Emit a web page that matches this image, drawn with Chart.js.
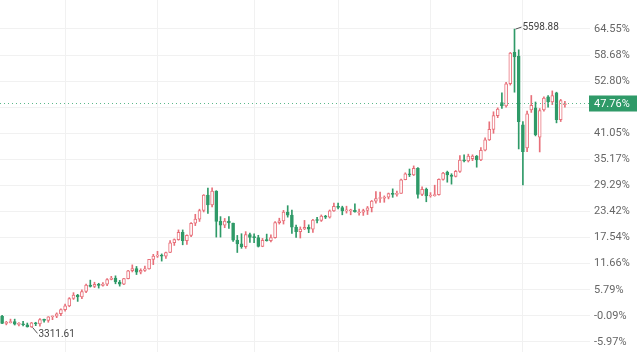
<!DOCTYPE html>
<html>
<head>
<meta charset="utf-8">
<script src="https://cdn.jsdelivr.net/npm/chart.js@4.4.1/dist/chart.umd.min.js"></script>
<style>
  html, body { margin: 0; padding: 0; background: #fff; }
  canvas { display: block; }
</style>
</head>
<body>
<canvas id="chart" width="640" height="352"></canvas>
<script>
// trading days shown on the chart
const days = [
  '2025-08-11','2025-08-12','2025-08-13','2025-08-14','2025-08-15','2025-08-18','2025-08-19','2025-08-20','2025-08-21','2025-08-22',
  '2025-08-25','2025-08-26','2025-08-27','2025-08-28','2025-08-29',
  '2025-09-01','2025-09-02','2025-09-03','2025-09-04','2025-09-05','2025-09-08','2025-09-09','2025-09-10','2025-09-11','2025-09-12',
  '2025-09-15','2025-09-16','2025-09-17','2025-09-18','2025-09-19','2025-09-22','2025-09-23','2025-09-24','2025-09-25','2025-09-26',
  '2025-09-29','2025-09-30',
  '2025-10-01','2025-10-02','2025-10-03','2025-10-06','2025-10-07','2025-10-08','2025-10-09','2025-10-10','2025-10-13','2025-10-14',
  '2025-10-15','2025-10-16','2025-10-17','2025-10-20','2025-10-21','2025-10-22','2025-10-23','2025-10-24','2025-10-27','2025-10-28',
  '2025-10-29','2025-10-30','2025-10-31',
  '2025-11-03','2025-11-04','2025-11-05','2025-11-06','2025-11-07','2025-11-10','2025-11-11','2025-11-12','2025-11-13','2025-11-14',
  '2025-11-17','2025-11-18','2025-11-19','2025-11-20','2025-11-21','2025-11-24','2025-11-25','2025-11-26','2025-11-27','2025-11-28',
  '2025-12-01','2025-12-02','2025-12-03','2025-12-04','2025-12-05','2025-12-08','2025-12-09','2025-12-10','2025-12-11','2025-12-12',
  '2025-12-15','2025-12-16','2025-12-17','2025-12-18','2025-12-19','2025-12-22','2025-12-23','2025-12-24','2025-12-26','2025-12-29',
  '2025-12-30','2025-12-31',
  '2026-01-01','2026-01-02','2026-01-05','2026-01-06','2026-01-07','2026-01-08','2026-01-09','2026-01-12','2026-01-13','2026-01-14',
  '2026-01-15','2026-01-16','2026-01-19','2026-01-20','2026-01-21','2026-01-22','2026-01-23','2026-01-26','2026-01-27','2026-01-28',
  '2026-01-29','2026-01-30',
  '2026-02-02','2026-02-03','2026-02-04','2026-02-05','2026-02-06','2026-02-09','2026-02-10','2026-02-11','2026-02-12','2026-02-13',
  '2026-02-16'
];

// OHLC (price units)
const open = [
  3397,3343,3348,3356,3335,3337,3332,3316,3347,3339, 3372,3365,3393,3397,3416,
  3448,3477,3533,3559,3545,3587,3636,3625,3641,3634, 3643,3679,3690,3660,3644,3685,3746,3763,3736,3749, 3760,3833,
  3858,3866,3857,3886,3961,3985,4041,3976,4017,4110, 4142,4208,4326,4251,4356,4125,4095,4126,4112,3981, 3952,3930,4024,
  4002,4000,3932,3980,3977,4000,4115,4128,4195,4172, 4080,4045,4066,4078,4065,4135,4131,4165,4156,4205,
  4239,4231,4205,4206,4209,4189,4196,4208,4229,4280, 4300,4302,4310,4338,4332,4339,4444,4490,4480,4532, 4331,4371,
  4319,4322,4330,4447,4502,4480,4470,4508,4597,4589, 4605,4625,4596,4670,4750,4830,4935,5035,5010,5180, 5420,5390,
  4865,4688,4980,4995,4770,4980,5080,5040,5110,4905, 5020
];
const high = [
  3404,3358,3375,3375,3348,3358,3345,3350,3351,3379, 3376,3394,3399,3423,3454,
  3490,3540,3578,3565,3600,3643,3674,3658,3650,3655, 3686,3703,3707,3672,3688,3749,3791,3779,3761,3782, 3834,3872,
  3895,3875,3890,3977,3990,4059,4059,4022,4116,4179, 4218,4330,4380,4381,4360,4161,4147,4161,4112,4017, 4030,4046,4034,
  4030,4018,3994,4027,4022,4123,4149,4209,4245,4211, 4097,4082,4132,4098,4140,4156,4174,4171,4212,4264,
  4264,4241,4241,4218,4259,4218,4218,4239,4285,4353, 4350,4320,4342,4374,4357,4448,4497,4526,4550,4538, 4389,4380,
  4345,4402,4450,4500,4510,4490,4515,4630,4634,4640, 4635,4630,4690,4765,4888,4965,4995,5110,5190,5420, 5598.88,5440,
  4890,4970,5090,5040,4990,5080,5090,5125,5115,5060, 5045
];
const low = [
  3341,3331,3345,3330,3323,3323,3314,3311.61,3325,3321, 3352,3351,3371,3386,3402,
  3436,3470,3526,3511,3531,3577,3621,3617,3613,3627, 3631,3676,3646,3628,3640,3683,3737,3717,3722,3741, 3759,3793,
  3848,3820,3840,3885,3940,3980,3945,3947,4008,4092, 4124,4197,4185,4236,4004,4004,4076,4071,3971,3886, 3918,3918,3964,
  3961,3928,3930,3973,3968,3995,4104,4104,4157,4032, 4002,3997,4061,4038,4039,4112,4124,4146,4150,4200,
  4221,4175,4188,4175,4195,4172,4170,4177,4197,4264, 4270,4271,4297,4309,4317,4338,4443,4468,4476,4302, 4322,4275,
  4310,4318,4325,4440,4425,4410,4465,4500,4580,4580, 4590,4540,4590,4665,4745,4800,4920,4990,5000,5170, 5115,4680,
  4404,4660,4960,4780,4657,4970,5000,5020,4880,4890, 5000
];
const close = [
  3343,3348,3356,3336,3337,3332,3316,3347,3339,3372, 3365,3393,3397,3416,3448,
  3477,3533,3559,3545,3587,3636,3625,3641,3634,3643, 3679,3690,3660,3644,3685,3746,3763,3736,3749,3760, 3833,3858,
  3866,3857,3886,3961,3985,4041,3976,4017,4110,4142, 4208,4326,4251,4356,4125,4095,4126,4112,3981,3952, 3930,4024,4002,
  4000,3932,3980,3977,4000,4115,4128,4195,4172,4080, 4045,4066,4078,4065,4135,4131,4165,4156,4205,4239,
  4231,4205,4206,4209,4197,4196,4208,4229,4280,4300, 4305,4310,4338,4332,4339,4444,4490,4480,4532,4331, 4371,4319,
  4322,4330,4447,4495,4480,4470,4508,4595,4589,4626, 4625,4596,4670,4750,4830,4935,4985,5010,5180,5415, 5385,4890,
  4660,4950,5015,4790,4975,5070,5040,5090,4905,5050, 5028.5
];

// percent mode: 0% is this reference price, axis ticks sit on round prices
const basePrice = 3403.125;
const priceTicks = [3200, 3400, 3600, 3800, 4000, 4200, 4400, 4600, 4800, 5000, 5200, 5400, 5600];

const upColor = '#e8707a';
const downColor = '#2f9a68';
const lastLineColor = '#5cb88a';
const gridColor = '#f1f1f1';
const labelColor = '#666';

const toPercent = v => ((v / basePrice - 1) * 100).toFixed(2) + '%';
const isUp = i => close[i] >= open[i];

// first trading day of each month gets a vertical grid line
const monthStarts = days.map((d, i) => i).filter(i => i > 0 && days[i].slice(0, 7) !== days[i - 1].slice(0, 7));

const bodies = days.map((d, i) => ({ x: i, y: [Math.min(open[i], close[i]), Math.max(open[i], close[i])] }));
const wicks = days.map((d, i) => ({ x: i, y: [low[i], high[i]] }));

const lastClose = close[close.length - 1];
const plotRight = 590;
const slotWidth = 4.2;

// current price line, its axis tag and the high / low marks
const overlay = {
  id: 'overlay',
  afterDraw(chart) {
    const { ctx, chartArea, scales: { x, y } } = chart;
    ctx.save();
    const py = Math.round(y.getPixelForValue(lastClose)) + 0.5;
    ctx.strokeStyle = lastLineColor;
    ctx.lineWidth = 1;
    ctx.setLineDash([1, 3]);
    ctx.beginPath();
    ctx.moveTo(chartArea.left, py);
    ctx.lineTo(chartArea.right, py);
    ctx.stroke();
    ctx.setLineDash([]);

    ctx.fillStyle = downColor;
    ctx.fillRect(chartArea.right - 1, py - 8, 640 - chartArea.right - 2, 16);
    ctx.fillStyle = '#fff';
    ctx.font = '11px Roboto';
    ctx.textBaseline = 'middle';
    ctx.fillText(toPercent(lastClose), chartArea.right + 4, py + 0.5);

    const hi = high.indexOf(Math.max(...high));
    const lo = low.indexOf(Math.min(...low));
    ctx.strokeStyle = '#555';
    ctx.fillStyle = '#444';
    ctx.font = '10px Roboto';

    const hx = x.getPixelForValue(hi), hy = y.getPixelForValue(high[hi]);
    ctx.beginPath();
    ctx.moveTo(hx + 1, hy);
    ctx.lineTo(hx + 7, hy - 2);
    ctx.stroke();
    ctx.fillText(high[hi].toFixed(2), hx + 8, hy - 2);

    const lx = x.getPixelForValue(lo), ly = y.getPixelForValue(low[lo]);
    ctx.beginPath();
    ctx.moveTo(lx + 1, ly);
    ctx.lineTo(lx + 6, ly + 6);
    ctx.stroke();
    ctx.fillText(low[lo].toFixed(2), lx + 7, ly + 7);
    ctx.restore();
  }
};

new Chart(document.getElementById('chart'), {
  type: 'bar',
  data: {
    datasets: [
      {
        // candle bodies, drawn on top
        data: bodies,
        order: 0,
        grouped: false,
        barThickness: 3,
        minBarLength: 1,
        borderWidth: 1,
        borderSkipped: false,
        borderColor: c => isUp(c.dataIndex) ? upColor : downColor,
        backgroundColor: c => isUp(c.dataIndex) ? '#fff' : downColor
      },
      {
        // wicks
        data: wicks,
        order: 1,
        grouped: false,
        barThickness: 1,
        borderWidth: 0,
        backgroundColor: c => isUp(c.dataIndex) ? upColor : downColor
      }
    ]
  },
  options: {
    responsive: false,
    animation: false,
    layout: { padding: 0 },
    plugins: { legend: { display: false }, tooltip: { enabled: false } },
    scales: {
      x: {
        type: 'linear',
        offset: false,
        min: -0.5,
        max: plotRight / slotWidth - 0.5,
        afterBuildTicks: s => { s.ticks = monthStarts.map(v => ({ value: v })); },
        ticks: { display: false },
        grid: { color: gridColor, drawTicks: false, offset: false },
        border: { display: false }
      },
      y: {
        position: 'right',
        min: 3123,
        max: 5822,
        afterBuildTicks: s => { s.ticks = priceTicks.map(v => ({ value: v })); },
        afterFit: s => { s.width = 640 - plotRight; s.paddingTop = 0; s.paddingBottom = 0; },
        ticks: {
          padding: 4,
          color: labelColor,
          font: { family: 'Roboto', size: 11 },
          callback: v => Math.abs(v - lastClose) < 100 ? '' : toPercent(v)
        },
        grid: { color: gridColor, drawTicks: false },
        border: { display: false }
      }
    }
  },
  plugins: [overlay]
});
</script>
</body>
</html>
